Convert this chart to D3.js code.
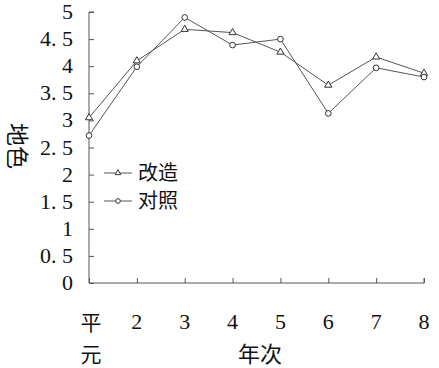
<!DOCTYPE html>
<html>
<head>
<meta charset="utf-8">
<script src="https://cdn.jsdelivr.net/npm/d3@7"></script>
<style>
  body { margin: 0; background: #fff; }
  svg { display: block; }
  .num { font-family: "Liberation Serif", "DejaVu Serif", "Times New Roman", serif; }
  .cjk { font-family: "Noto Sans CJK SC", "Noto Sans CJK JP", sans-serif; }
</style>
</head>
<body>
<div id="chart"></div>
<script>
const categories = ["平元", "2", "3", "4", "5", "6", "7", "8"];
const gaizao = [3.05, 4.1, 4.68, 4.62, 4.26, 3.65, 4.17, 3.87];
const duizhao = [2.72, 3.99, 4.9, 4.39, 4.5, 3.13, 3.97, 3.8];
const yTicks = [0, 0.5, 1, 1.5, 2, 2.5, 3, 3.5, 4, 4.5, 5];

const width = 439, height = 368;
const lineCol = "#555";
const textCol = "#111";

const svg = d3.select("#chart").append("svg")
    .attr("width", width)
    .attr("height", height);

const x = d3.scalePoint().domain(categories).range([89, 424]).padding(0);
const y = d3.scaleLinear().domain([0, 5]).range([283, 12]);

// y axis, ticks point inward
const yAxis = svg.append("g")
    .attr("transform", "translate(89,0)")
    .call(d3.axisRight(y).tickValues(yTicks).tickSize(5).tickFormat(""));
yAxis.select(".domain").attr("stroke", lineCol).attr("d", `M5,${y(5)}H0V${y(0)}`);
yAxis.selectAll(".tick line").attr("stroke", lineCol);

svg.append("g").selectAll("text")
    .data(yTicks)
    .enter().append("text")
    .attr("class", "num")
    .attr("x", 73)
    .attr("y", d => y(d) + 7)
    .attr("text-anchor", "end")
    .attr("font-size", "22px")
    .attr("fill", textCol)
    .text(d => String(d).replace(".", ". "));

// x axis, ticks point upward
const xAxis = svg.append("g")
    .attr("transform", `translate(0,${y(0)})`)
    .call(d3.axisTop(x).tickSize(5).tickFormat(""));
xAxis.select(".domain").attr("stroke", lineCol).attr("d", `M89,0H424V-5`);
xAxis.selectAll(".tick line").attr("stroke", lineCol);

// x tick labels
svg.append("g").selectAll("text")
    .data(categories.slice(1))
    .enter().append("text")
    .attr("class", "num")
    .attr("x", d => x(d))
    .attr("y", 329)
    .attr("text-anchor", "middle")
    .attr("font-size", "22px")
    .attr("fill", textCol)
    .text(d => d);

// first category written vertically
[0, 1].forEach(k => {
    svg.append("text")
        .attr("class", "cjk")
        .attr("x", x(categories[0]) + 2)
        .attr("y", k === 0 ? 330 : 362)
        .attr("text-anchor", "middle")
        .attr("font-size", "21px")
        .attr("fill", textCol)
        .text(categories[0][k]);
});

// axis titles
svg.append("text")
    .attr("class", "cjk")
    .attr("x", 260)
    .attr("y", 362)
    .attr("text-anchor", "middle")
    .attr("font-size", "22px")
    .attr("fill", textCol)
    .text("年次");

svg.append("text")
    .attr("class", "cjk")
    .attr("transform", "translate(9,146) rotate(90)")
    .attr("text-anchor", "middle")
    .attr("font-size", "23px")
    .attr("fill", textCol)
    .text("地色");

// series
const line = d3.line().x((d, i) => x(categories[i])).y(d => y(d));

function marker(g, kind, cx, cy, s) {
    if (kind === "tri") {
        g.append("path")
            .attr("d", d3.symbol(d3.symbolTriangle, s)())
            .attr("transform", `translate(${cx},${cy})`)
            .attr("fill", "#fff")
            .attr("stroke", "#333");
    } else {
        g.append("circle")
            .attr("cx", cx).attr("cy", cy).attr("r", Math.sqrt(s / Math.PI) + 0.2)
            .attr("fill", "#fff")
            .attr("stroke", "#333");
    }
}

function drawSeries(values, kind) {
    svg.append("path")
        .datum(values)
        .attr("fill", "none")
        .attr("stroke", lineCol)
        .attr("stroke-width", 1)
        .attr("d", line);
    const g = svg.append("g");
    values.forEach((v, i) => marker(g, kind, x(categories[i]), y(v), 22));
}
drawSeries(gaizao, "tri");
drawSeries(duizhao, "circ");

// legend
const legend = [
    { name: "改造", kind: "tri", y: 173 },
    { name: "对照", kind: "circ", y: 201 }
];
legend.forEach(d => {
    svg.append("line")
        .attr("x1", 104).attr("x2", 132)
        .attr("y1", d.y).attr("y2", d.y)
        .attr("stroke", lineCol);
    marker(svg, d.kind, 118, d.y, 14);
    svg.append("text")
        .attr("class", "cjk")
        .attr("x", 138)
        .attr("y", d.y + 7)
        .attr("font-size", "20px")
        .attr("fill", textCol)
        .text(d.name);
});
</script>
</body>
</html>
